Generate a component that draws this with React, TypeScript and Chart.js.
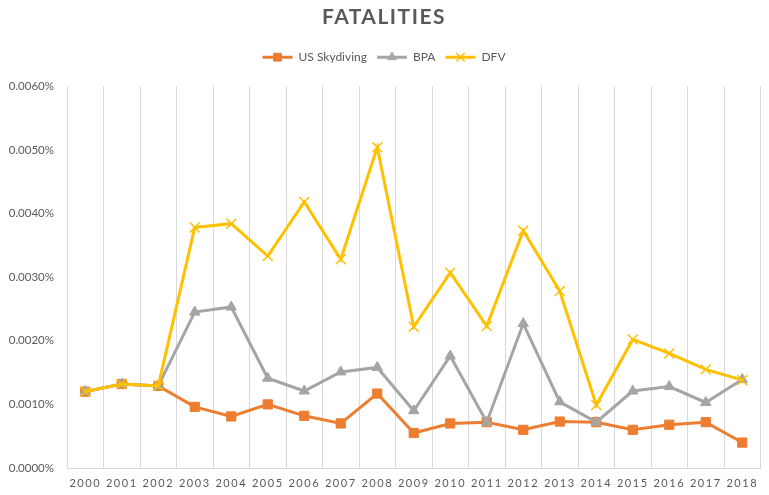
import React, { useEffect, useRef } from 'react';
import { Chart, registerables } from 'chart.js';
import { drawPoint } from 'chart.js/helpers';

Chart.register(...registerables);

const years = ['2000', '2001', '2002', '2003', '2004', '2005', '2006', '2007', '2008', '2009',
  '2010', '2011', '2012', '2013', '2014', '2015', '2016', '2017', '2018'];

// values are in percent units (0.0012 => 0.0012%)
const usSkydiving = [0.00120, 0.00132, 0.00129, 0.00096, 0.00081, 0.00100, 0.00082, 0.00070, 0.00117, 0.00055,
  0.00070, 0.00072, 0.00060, 0.00073, 0.00072, 0.00060, 0.00068, 0.00072, 0.00040];
const bpa = [0.00120, 0.00132, 0.00129, 0.00245, 0.00253, 0.00141, 0.00121, 0.00151, 0.00158, 0.00090,
  0.00176, 0.00072, 0.00227, 0.00104, 0.00072, 0.00121, 0.00128, 0.00103, 0.00139];
const dfv = [0.00120, 0.00132, 0.00129, 0.00378, 0.00384, 0.00333, 0.00418, 0.00328, 0.00504, 0.00222,
  0.00307, 0.00223, 0.00373, 0.00278, 0.00099, 0.00202, 0.00180, 0.00155, 0.00138];

const FONT = "Lato, 'Open Sans', sans-serif";
const TEXT = '#595959';

// letter spacing on title and x labels, like the Excel original
const spacingPlugin = {
  id: 'spacing',
  beforeDraw(chart: any) {
    const wrap = (obj: any, key: string, sp: string) => {
      if (!obj || obj['__wrapped_' + key]) return;
      const orig = obj[key].bind(obj);
      obj[key] = (...args: any[]) => {
        const c: any = chart.ctx;
        const prev = c.letterSpacing;
        c.letterSpacing = sp;
        orig(...args);
        c.letterSpacing = prev || '0px';
      };
      obj['__wrapped_' + key] = true;
    };
    wrap(chart.titleBlock, 'draw', '1.5px');
    wrap(chart.scales.x, 'drawLabels', '1.5px');
  }
};

// legend: line + marker
const legendMarkers = {
  id: 'legendMarkers',
  afterDraw(chart: any) {
    const legend = chart.legend;
    if (!legend || !legend.legendHitBoxes) return;
    const ctx = chart.ctx;
    legend.legendItems.forEach((item: any, i: number) => {
      const box = legend.legendHitBoxes[i];
      const ds = chart.data.datasets[item.datasetIndex];
      const cx = box.left + 15;
      const cy = box.top + box.height / 2;
      ctx.save();
      ctx.fillStyle = ds.pointBackgroundColor;
      ctx.strokeStyle = ds.pointBorderColor;
      ctx.lineWidth = ds.pointBorderWidth;
      drawPoint(ctx, { pointStyle: ds.pointStyle, radius: ds.pointRadius - 1, rotation: 0, borderWidth: ds.pointBorderWidth }, cx, cy);
      ctx.restore();
    });
  }
};

const App: React.FC = () => {
  const canvasRef = useRef<HTMLCanvasElement>(null);

  useEffect(() => {
    document.body.style.margin = '0';
    if (!canvasRef.current) return;

    const chart = new Chart(canvasRef.current, {
      type: 'line',
      data: {
        labels: years,
        datasets: [
          {
            label: 'US Skydiving',
            data: usSkydiving,
            borderColor: '#ED7D31',
            backgroundColor: '#ED7D31',
            pointBackgroundColor: '#ED7D31',
            pointBorderColor: '#ED7D31',
            pointStyle: 'rect',
            pointRadius: 6.5,
            pointBorderWidth: 1,
            borderWidth: 3,
            order: 3
          },
          {
            label: 'BPA',
            data: bpa,
            borderColor: '#A5A5A5',
            backgroundColor: '#A5A5A5',
            pointBackgroundColor: '#A5A5A5',
            pointBorderColor: '#A5A5A5',
            pointStyle: 'triangle',
            pointRadius: 6,
            pointBorderWidth: 1,
            borderWidth: 3,
            order: 2
          },
          {
            label: 'DFV',
            data: dfv,
            borderColor: '#FFC000',
            backgroundColor: '#FFC000',
            pointBackgroundColor: '#FFC000',
            pointBorderColor: '#FFC000',
            pointStyle: 'crossRot',
            pointRadius: 7,
            pointBorderWidth: 1.5,
            borderWidth: 3,
            order: 1
          }
        ]
      } as any,
      options: {
        responsive: false,
        animation: false,
        layout: { padding: { left: 7, right: 8, top: 0, bottom: 0 } },
        plugins: {
          title: {
            display: true,
            text: 'FATALITIES',
            color: TEXT,
            font: { family: FONT, size: 21, weight: 'bold' },
            padding: { top: 5, bottom: 11 }
          },
          legend: {
            position: 'top',
            labels: {
              font: { family: FONT, size: 12 },
              color: TEXT,
              boxWidth: 30,
              boxHeight: 3,
              padding: 10,
              generateLabels: (c: any) => c.data.datasets.map((ds: any, i: number) => ({
                text: ds.label,
                fillStyle: ds.borderColor,
                strokeStyle: ds.borderColor,
                fontColor: TEXT,
                lineWidth: 0,
                hidden: false,
                datasetIndex: i
              }))
            }
          },
          tooltip: { enabled: false }
        },
        scales: {
          x: {
            offset: true,
            grid: { display: true, offset: true, color: '#D9D9D9', lineWidth: 1, drawTicks: false },
            border: { display: true, color: '#D9D9D9', width: 1 },
            ticks: {
              color: TEXT,
              font: { family: FONT, size: 11 },
              padding: 9,
              maxRotation: 0,
              autoSkip: false,
              z: 1
            },
            afterFit: (s: any) => { s.height = 27; }
          },
          y: {
            min: 0,
            max: 0.006,
            grid: { display: false, drawTicks: false },
            border: { display: false },
            ticks: {
              stepSize: 0.001,
              color: TEXT,
              font: { family: FONT, size: 11.5 },
              padding: 13,
              callback: (v: any) => Number(v).toFixed(4) + '%'
            },
            afterFit: (s: any) => { s.width = 60; }
          }
        }
      } as any,
      plugins: [spacingPlugin, legendMarkers,
        {
          id: 'legendGap',
          beforeInit(c: any) {
            const fit = c.legend.fit;
            c.legend.fit = function () {
              fit.bind(c.legend)();
              this.height += 13;
            };
          }
        }]
    });

    return () => chart.destroy();
  }, []);

  return (
    <div style={{ width: 769, height: 495, background: '#fff' }}>
      <canvas ref={canvasRef} width={769} height={495}></canvas>
    </div>
  );
};

export default App;
